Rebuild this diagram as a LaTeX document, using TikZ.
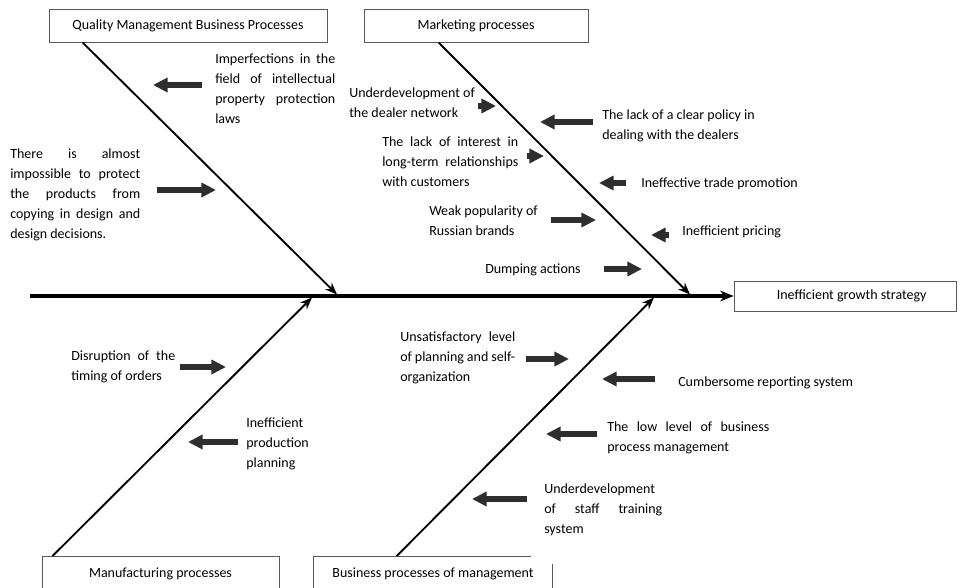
\documentclass[tikz,border=0pt]{standalone}
\usepackage{fontspec}
\setmainfont{Carlito}
\usetikzlibrary{arrows.meta,calc}
\newlength\pxu \setlength\pxu{0.75pt}
\newcommand\jline[2]{\makebox[#1\pxu][s]{#2}}
\begin{document}
\begin{tikzpicture}[x=0.75pt,y=-0.75pt,
  txt/.style={font=\fontsize{10.5}{15}\selectfont, inner sep=0pt, align=left, anchor=north west, text=black},
  catbox/.style={draw=black!65, line width=0.7pt, font=\fontsize{10.5}{15}\selectfont, inner sep=0pt, text=black},
  boxline/.style={draw=black!65, line width=0.7pt},
  bone/.style={line width=1.4pt, -{Stealth[length=9pt,width=7pt]}},
  spine/.style={line width=2.4pt, -{Stealth[length=10pt,width=8pt]}},
  fat/.style={line width=4pt, draw=black!82, -{Triangle[length=11pt,width=10.5pt]}},
]
\useasboundingbox (0,0) rectangle (960,588);

% category boxes
\node[catbox, minimum width=208.5pt, minimum height=24.75pt] (qm) at (188,25.5) {Quality Management Business Processes};
\node[catbox, minimum width=168pt, minimum height=24.75pt] (mkt) at (476,25.5) {Marketing processes};
\node[catbox, minimum width=166.5pt, minimum height=22.5pt] (goal) at (845,296) {\hspace*{10pt}Inefficient growth strategy};
\node[catbox, minimum width=177.75pt, minimum height=26pt, anchor=north] (mfg) at (160.5,556) {Manufacturing processes};
\node[font=\fontsize{10.5}{15}\selectfont, text=black, inner sep=0pt, minimum width=178.5pt, minimum height=26pt, anchor=north] (bpm) at (433,556) {Business processes of management};
\draw[boxline] (bpm.south west) -- (bpm.north west) -- ($(bpm.north west)+(217,0)$);
\draw[boxline] (bpm.south east) -- ($(bpm.north east)+(0,8)$);

% spine
\coordinate (tail) at (30,296);
\draw[spine] (tail) -- (goal.west);

% bones
\coordinate (qmS) at ($(qm.south west)+(34,0)$);
\coordinate (qmE) at (337,294.5);
\coordinate (mkS) at ($(mkt.south west)+(75,0)$);
\coordinate (mkE) at (690,294.5);
\coordinate (mfS) at ($(mfg.north west)+(11,0)$);
\coordinate (mfE) at (312,297.5);
\coordinate (bpS) at ($(bpm.north west)+(83,0)$);
\coordinate (bpE) at (654,297.5);
\draw[bone] (qmS) -- (qmE);
\draw[bone] (mkS) -- (mkE);
\draw[bone] (mfS) -- (mfE);
\draw[bone] (bpS) -- (bpE);

% cause texts
\node[txt] (t1) at (215,49.5) {\strut\jline{120}{Imperfections in the}\\\jline{120}{field of intellectual}\\\jline{120}{property protection}\\laws};
\node[txt] (t2) at (10,144.5) {\strut\jline{130}{There is almost}\\\jline{130}{impossible to protect}\\\jline{130}{the products from}\\\jline{130}{copying in design and}\\design decisions.};
\node[txt] (t3) at (349,83.5) {\strut Underdevelopment of\\the dealer network};
\node[txt] (t4) at (602,105.5) {\strut The lack of a clear policy in\\dealing with the dealers};
\node[txt] (t5) at (382,132.5) {\strut\jline{136}{The lack of interest in}\\\jline{136}{long-term relationships}\\with customers};
\node[txt] (t6) at (641,173.5) {\strut Ineffective trade promotion};
\node[txt] (t7) at (429,201.5) {\strut Weak popularity of\\Russian brands};
\node[txt] (t8) at (682,221.5) {\strut Inefficient pricing};
\node[txt] (t9) at (485,259.5) {\strut Dumping actions};
\node[txt] (t10) at (71,346.5) {\strut\jline{104}{Disruption of the}\\timing of orders};
\node[txt] (t11) at (246,413.5) {\strut Inefficient\\production\\planning};
\node[txt] (t12) at (400,327.5) {\strut\jline{115}{Unsatisfactory level}\\\jline{115}{of planning and self-}\\organization};
\node[txt] (t13) at (678,372.5) {\strut Cumbersome reporting system};
\node[txt] (t14) at (607,417.5) {\strut\jline{162}{The low level of business}\\process management};
\node[txt] (t15) at (544,479.5) {\strut Underdevelopment\\\jline{118}{of staff training}\\system};

% fat arrows
\coordinate (a1s) at (202,85);  \coordinate (a1e) at (153,85);
\coordinate (a2s) at (157,190); \coordinate (a2e) at (216,190);
\coordinate (a3s) at (478,106); \coordinate (a3e) at (496,106);
\coordinate (a4s) at (593,122); \coordinate (a4e) at (540,122);
\coordinate (a5s) at (527,156); \coordinate (a5e) at (544,156);
\coordinate (a6s) at (626,183); \coordinate (a6e) at (599,183);
\coordinate (a7s) at (551,220); \coordinate (a7e) at (596,220);
\coordinate (a8s) at (669,235); \coordinate (a8e) at (651,235);
\coordinate (a9s) at (604,269); \coordinate (a9e) at (642,269);
\coordinate (a10s) at (180,367); \coordinate (a10e) at (226,367);
\coordinate (a11s) at (238,442); \coordinate (a11e) at (188,442);
\coordinate (a12s) at (526,359); \coordinate (a12e) at (569,359);
\coordinate (a13s) at (655,379); \coordinate (a13e) at (602,379);
\coordinate (a14s) at (597,434); \coordinate (a14e) at (546,434);
\coordinate (a15s) at (527,499); \coordinate (a15e) at (472,499);
\foreach \i in {1,...,15} { \draw[fat] (a\i s) -- (a\i e); }
\end{tikzpicture}
\end{document}
